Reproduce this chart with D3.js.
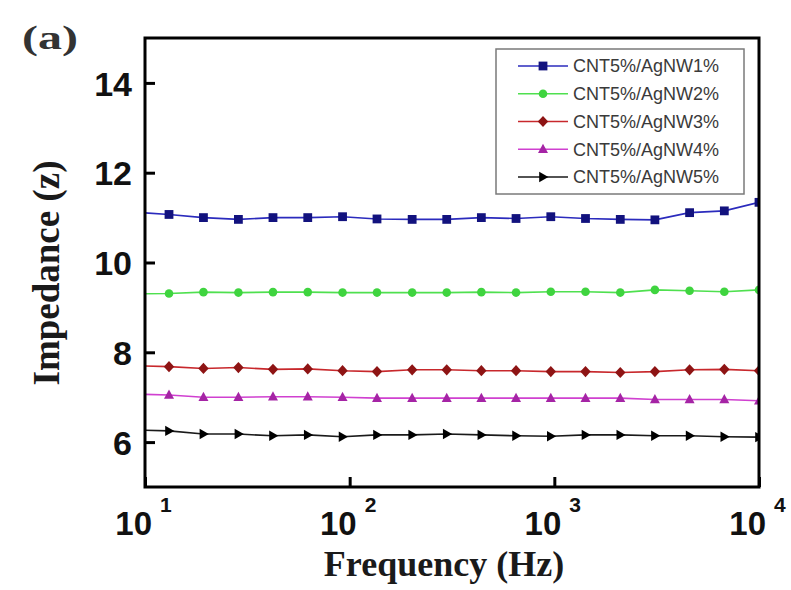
<!DOCTYPE html>
<html>
<head>
<meta charset="utf-8">
<script src="https://cdn.jsdelivr.net/npm/d3@7/dist/d3.min.js"></script>
<style>
  html, body { margin: 0; padding: 0; background: #fff; }
  svg { display: block; }
</style>
</head>
<body>
<svg id="chart" width="791" height="590"></svg>
<script>
// Frequency sweep (Hz); the first sample sits just below the 10 Hz axis limit
const frequencies = [8.86, 13.1, 19.3, 28.6, 42.2, 62.4, 92.3, 136, 202, 298, 440, 650, 961, 1420, 2100, 3100, 4580, 6770, 10000];

const seriesNames = ["CNT5%/AgNW1%", "CNT5%/AgNW2%", "CNT5%/AgNW3%", "CNT5%/AgNW4%", "CNT5%/AgNW5%"];

const agnw1 = [11.12, 11.07, 11.00, 10.96, 11.00, 11.00, 11.02, 10.97, 10.96, 10.96, 11.00, 10.98, 11.02, 10.98, 10.96, 10.95, 11.11, 11.15, 11.34];
const agnw2 = [9.30, 9.31, 9.34, 9.33, 9.34, 9.34, 9.33, 9.33, 9.33, 9.33, 9.34, 9.33, 9.35, 9.35, 9.33, 9.39, 9.37, 9.35, 9.39];
const agnw3 = [7.70, 7.68, 7.64, 7.66, 7.62, 7.63, 7.59, 7.57, 7.61, 7.61, 7.59, 7.59, 7.57, 7.57, 7.55, 7.57, 7.61, 7.62, 7.59];
const agnw4 = [7.07, 7.05, 7.00, 7.00, 7.01, 7.01, 7.00, 6.98, 6.98, 6.98, 6.98, 6.98, 6.98, 6.98, 6.98, 6.95, 6.95, 6.95, 6.92];
const agnw5 = [6.27, 6.25, 6.18, 6.18, 6.14, 6.16, 6.12, 6.16, 6.16, 6.18, 6.16, 6.14, 6.13, 6.16, 6.16, 6.14, 6.14, 6.12, 6.11];

const yTicks = [6, 8, 10, 12, 14];
const xTickExponents = [1, 2, 3, 4];

const seriesValues = [agnw1, agnw2, agnw3, agnw4, agnw5];
const lineColors   = ["#2b2bbd", "#4fe04f", "#c8282c", "#d040d0", "#1a1a1a"];
const markerColors = ["#12127e", "#3fd43f", "#8e1414", "#a524a5", "#000000"];
const markerShapes = ["square", "circle", "diamond", "triangleUp", "triangleRight"];

const svg = d3.select("#chart");
const plot = { left: 145, right: 759, top: 38, bottom: 487 };

const x = d3.scaleLog().domain([10, 10000]).range([plot.left, plot.right]);
const y = d3.scaleLinear().domain([5, 15]).range([plot.bottom, plot.top]);

// Marker path generators centred on (0,0)
function markerPath(shape) {
  switch (shape) {
    case "square": return "M-4.4,-4.4H4.4V4.4H-4.4Z";
    case "circle": return d3.symbol(d3.symbolCircle, 58)();
    case "diamond": return "M0,-5.6L5.2,0L0,5.6L-5.2,0Z";
    case "triangleUp": return "M0,-5.4L5,3.8L-5,3.8Z";
    case "triangleRight": return "M-3.8,-5.2L5.4,0L-3.8,5.2Z";
  }
}

svg.append("defs").append("clipPath").attr("id", "plotClip")
  .append("rect")
  .attr("x", plot.left).attr("y", plot.top)
  .attr("width", plot.right - plot.left).attr("height", plot.bottom - plot.top);

const dataLayer = svg.append("g").attr("clip-path", "url(#plotClip)");

const line = d3.line()
  .x(d => x(d[0]))
  .y(d => y(d[1]));

seriesValues.forEach((vals, i) => {
  const pts = frequencies.map((f, j) => [f, vals[j]]);
  dataLayer.append("path")
    .datum(pts)
    .attr("fill", "none")
    .attr("stroke", lineColors[i])
    .attr("stroke-width", 1.6)
    .attr("d", line);
  dataLayer.selectAll(null)
    .data(pts)
    .enter().append("path")
    .attr("transform", d => `translate(${x(d[0])},${y(d[1])})`)
    .attr("d", markerPath(markerShapes[i]))
    .attr("fill", markerColors[i]);
});

// Y axis with inward ticks
const yAxis = d3.axisLeft(y)
  .tickValues(yTicks)
  .tickSizeInner(-10)
  .tickSizeOuter(0)
  .tickPadding(13)
  .tickFormat(d3.format("d"));

const gy = svg.append("g").attr("transform", `translate(${plot.left},0)`).call(yAxis);
gy.select(".domain").remove();
gy.selectAll(".tick line").attr("stroke", "#000").attr("stroke-width", 3);
gy.selectAll(".tick text")
  .attr("fill", "#111")
  .attr("dy", "0.36em")
  .style("font-family", "'Liberation Sans', Arial, sans-serif")
  .style("font-weight", "bold")
  .style("font-size", "34px");

// X axis (log) with inward ticks and power-of-ten labels
const xAxis = d3.axisBottom(x)
  .tickValues(xTickExponents.map(e => Math.pow(10, e)))
  .tickSizeInner(-10)
  .tickSizeOuter(0)
  .tickFormat(() => "");

const gx = svg.append("g").attr("transform", `translate(0,${plot.bottom})`).call(xAxis);
gx.select(".domain").remove();
gx.selectAll(".tick line").attr("stroke", "#000").attr("stroke-width", 3);

const xLabels = svg.append("g")
  .style("font-family", "'Liberation Sans', Arial, sans-serif")
  .style("font-weight", "bold")
  .attr("fill", "#111");

xTickExponents.forEach(e => {
  const px = x(Math.pow(10, e));
  xLabels.append("text")
    .attr("x", px + 7).attr("y", 535)
    .attr("text-anchor", "end")
    .style("font-size", "33px")
    .text("10");
  xLabels.append("text")
    .attr("x", px + 15).attr("y", 512)
    .style("font-size", "21px")
    .text(String(e));
});

// Frame
svg.append("rect")
  .attr("x", plot.left).attr("y", plot.top)
  .attr("width", plot.right - plot.left).attr("height", plot.bottom - plot.top)
  .attr("fill", "none").attr("stroke", "#000").attr("stroke-width", 3);

// Axis titles
svg.append("text")
  .attr("x", 444).attr("y", 576)
  .attr("text-anchor", "middle")
  .attr("fill", "#1a1a1a")
  .style("font-family", "'Liberation Serif', 'Times New Roman', serif")
  .style("font-weight", "bold")
  .style("font-size", "36px")
  .text("Frequency (Hz)");

svg.append("text")
  .attr("transform", "translate(59,273) rotate(-90)")
  .attr("text-anchor", "middle")
  .attr("fill", "#1a1a1a")
  .style("font-family", "'Liberation Serif', 'Times New Roman', serif")
  .style("font-weight", "bold")
  .style("font-size", "37px")
  .text("Impedance (z)");

// Panel label
svg.append("text")
  .attr("x", 22).attr("y", 49)
  .attr("fill", "#333")
  .attr("textLength", 56).attr("lengthAdjust", "spacingAndGlyphs")
  .style("font-family", "'Liberation Serif', 'Times New Roman', serif")
  .style("font-weight", "bold")
  .style("font-size", "34px")
  .text("(a)");

// Legend
const legend = svg.append("g");
legend.append("rect")
  .attr("x", 496).attr("y", 49)
  .attr("width", 248).attr("height", 145)
  .attr("fill", "#fff").attr("stroke", "#7a7a7a").attr("stroke-width", 1.5);

const legendRow = d3.scaleLinear().domain([0, 4]).range([66, 177]);

seriesNames.forEach((name, i) => {
  const ry = legendRow(i);
  legend.append("line")
    .attr("x1", 518).attr("x2", 568).attr("y1", ry).attr("y2", ry)
    .attr("stroke", lineColors[i]).attr("stroke-width", 1.6);
  legend.append("path")
    .attr("transform", `translate(543,${ry})`)
    .attr("d", markerPath(markerShapes[i]))
    .attr("fill", markerColors[i]);
  legend.append("text")
    .attr("x", 573).attr("y", ry)
    .attr("dy", "0.36em")
    .attr("fill", "#3a3a3a")
    .style("font-family", "'Liberation Sans', Arial, sans-serif")
    .style("font-size", "18px")
    .text(name);
});
</script>
</body>
</html>
